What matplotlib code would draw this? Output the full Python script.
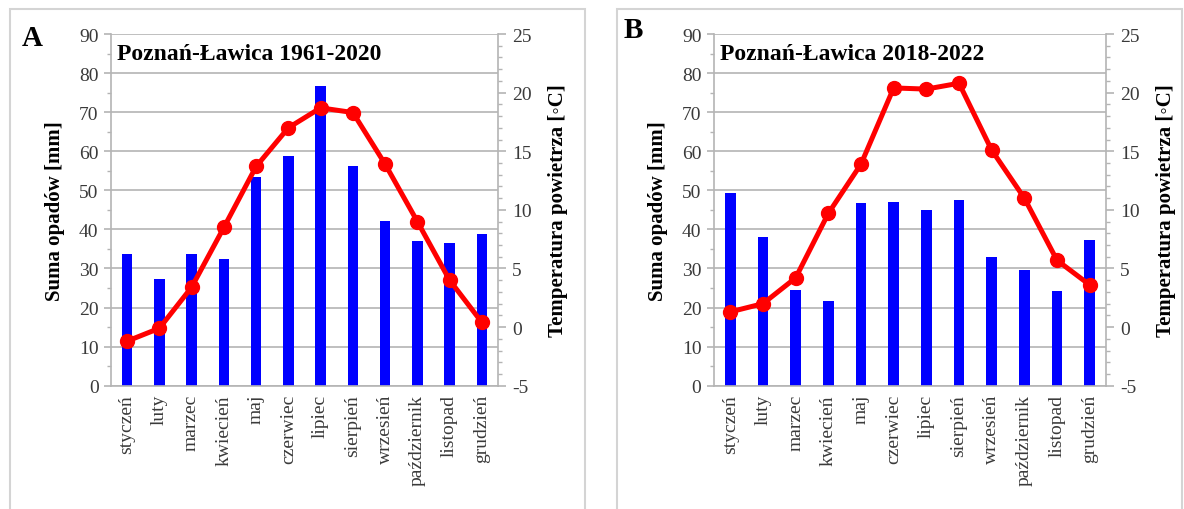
import matplotlib
matplotlib.use('Agg')
from matplotlib import pyplot as plt
from matplotlib.patches import Rectangle
from matplotlib.ticker import MultipleLocator

plt.rcParams['font.family'] = ['Liberation Serif', 'DejaVu Serif']
plt.rcParams['axes.unicode_minus'] = False

months = ['styczeń', 'luty', 'marzec', 'kwiecień', 'maj', 'czerwiec',
          'lipiec', 'sierpień', 'wrzesień', 'październik', 'listopad', 'grudzień']

# panel A: 1961-2020
opady_a = [33.6, 27.3, 33.6, 32.4, 53.5, 58.9, 76.6, 56.3, 42.2, 37.1, 36.4, 38.7]
temp_a = [-1.2, -0.1, 3.4, 8.5, 13.7, 17.0, 18.7, 18.3, 13.9, 9.0, 4.0, 0.4]

# panel B: 2018-2022
opady_b = [49.2, 38.0, 24.6, 21.8, 46.7, 46.9, 45.0, 47.6, 32.9, 29.7, 24.2, 37.4]
temp_b = [1.3, 2.0, 4.2, 9.7, 13.9, 20.4, 20.3, 20.8, 15.1, 11.0, 5.7, 3.6]

W, H = 1184, 510
GRID = '#b4b4b4'
TXT = '#3a3a3a'


def px_axes(fig, x0, x1, ytop, ybot):
    return fig.add_axes([x0 / W, 1 - ybot / H, (x1 - x0) / W, (ybot - ytop) / H])


def klimatogram(fig, box, opady, temp, title, letter, frame, letter_xy):
    # light frame around the panel
    fx0, fx1 = frame
    fig.patches.append(Rectangle((fx0 / W, -0.02), (fx1 - fx0) / W, 1 - 10 / H + 0.02,
                                 transform=fig.transFigure, fill=False,
                                 edgecolor='#d4d4d4', linewidth=1.5))
    fig.text(letter_xy[0] / W, 1 - letter_xy[1] / H, letter, fontsize=21,
             fontweight='bold', ha='left', va='center')

    ax = px_axes(fig, *box)
    x = list(range(len(months)))
    ax.bar(x, opady, width=0.32, color='#0000ff', zorder=2)
    ax.set_xlim(-0.5, len(months) - 0.5)
    ax.set_ylim(0, 90)
    ax.yaxis.set_major_locator(MultipleLocator(10))
    ax.yaxis.set_minor_locator(MultipleLocator(5))
    ax.grid(axis='y', color=GRID, linewidth=1.2, zorder=0)
    ax.set_axisbelow(True)
    for s in ['left', 'bottom', 'right']:
        ax.spines[s].set_color(GRID)
        ax.spines[s].set_linewidth(1.2)
    ax.spines['top'].set_visible(False)
    ax.set_xticks(x)
    ax.set_xticklabels(months, rotation=90, fontsize=14, color=TXT)
    ax.tick_params(axis='x', length=0, pad=6)
    ax.tick_params(axis='y', which='major', length=5, color=GRID, width=1.2,
                   labelsize=14, labelcolor=TXT, pad=4)
    ax.tick_params(axis='y', which='minor', length=3, color=GRID, width=1)
    ax.set_ylabel('Suma opadów [mm]', fontsize=15, fontweight='bold', labelpad=10)
    ax.text(0.015, 0.975, title, transform=ax.transAxes, fontsize=17,
            fontweight='bold', ha='left', va='top', zorder=5)

    ax2 = ax.twinx()
    ax2.plot(x, temp, color='#ff0000', linewidth=3.6, marker='o', markersize=10,
             zorder=4)
    ax2.set_ylim(-5, 25)
    ax2.yaxis.set_major_locator(MultipleLocator(5))
    ax2.yaxis.set_minor_locator(MultipleLocator(1))
    for s in ['left', 'bottom', 'right', 'top']:
        ax2.spines[s].set_visible(False)
    ax2.tick_params(axis='y', which='major', length=6, color=GRID, width=1.2,
                    labelsize=14, labelcolor=TXT, pad=4)
    ax2.tick_params(axis='y', which='minor', length=3, color=GRID, width=1)
    ax2.set_ylabel('Temperatura powietrza [\u25e6C]', fontsize=15,
                   fontweight='bold', labelpad=12)
    return ax, ax2


fig = plt.figure(figsize=(W / 100, H / 100), dpi=100)
fig.patch.set_facecolor('white')

klimatogram(fig, (111, 498, 35, 386.7), opady_a, temp_a,
            'Poznań-Ławica 1961-2020', 'A', (10, 585), (22, 38))
klimatogram(fig, (714, 1106, 35, 386.7), opady_b, temp_b,
            'Poznań-Ławica 2018-2022', 'B', (617, 1182), (624, 30))

fig.savefig('out.png', dpi=100)
